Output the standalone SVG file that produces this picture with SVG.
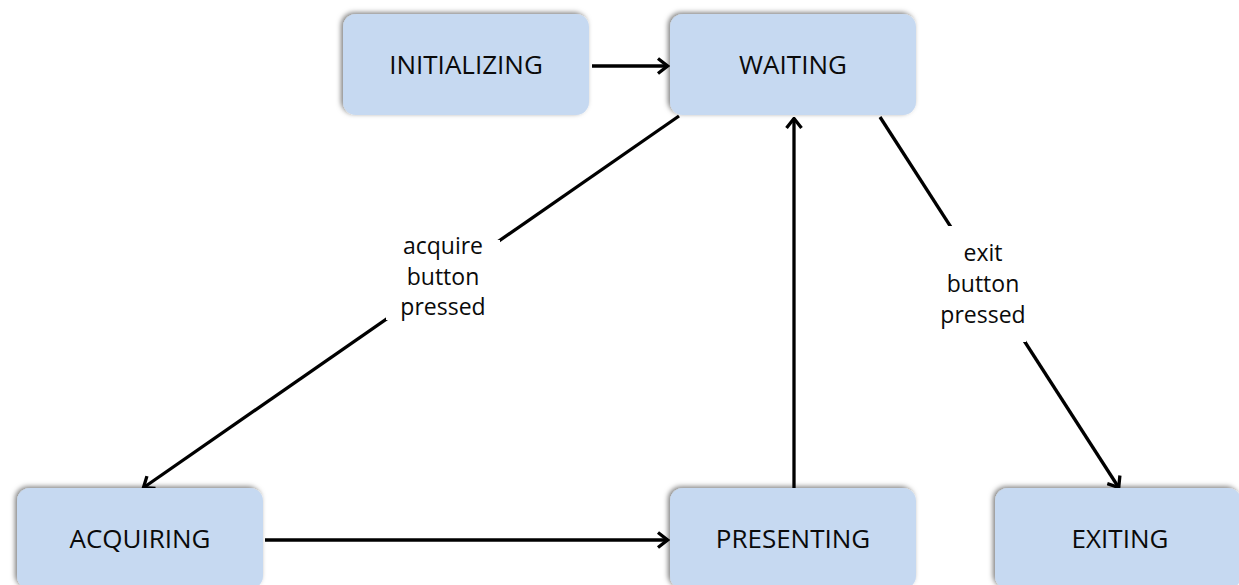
<svg xmlns="http://www.w3.org/2000/svg" width="1239" height="585" viewBox="0 0 1239 585">
  <style>
    .state rect { fill: #c6d9f1; filter: url(#soft); }
    .state text { font-family: "Open Sans", "Liberation Sans", sans-serif; font-size: 26px; fill: #0a0a0a; text-anchor: middle; }
    .edge { stroke: #000; stroke-width: 3.3; fill: none; marker-end: url(#head); }
    .label rect { fill: #fff; }
    .label text { font-family: "Open Sans", "Liberation Sans", sans-serif; font-size: 23px; fill: #0a0a0a; text-anchor: middle; }
  </style>
  <defs>
    <filter id="soft" x="-10%" y="-20%" width="120%" height="140%">
      <feDropShadow dx="-2" dy="-1.5" stdDeviation="2.4" flood-color="#000" flood-opacity="0.5"/>
    </filter>
    <marker id="head" markerUnits="userSpaceOnUse" viewBox="0 0 14 18" refX="12.5" refY="9" markerWidth="14" markerHeight="18" orient="auto">
      <path d="M2.5,1.5 L12,9 L2.5,16.5" fill="none" stroke="#000" stroke-width="3.3" stroke-linejoin="miter"/>
    </marker>
  </defs>

  <rect width="1239" height="585" fill="#fff"/>

  <!-- transitions -->
  <g id="connectors">
    <path class="edge" d="M592,66 L668,66"/>
    <path class="edge" d="M679,116 L143,488"/>
    <path class="edge" d="M265,540 L668,540"/>
    <path class="edge" d="M794,489 L794,118"/>
    <path class="edge" d="M880,117 L1119,488"/>
    <g class="label" id="label-acquire">
      <rect x="386" y="240" width="114" height="80"/>
      <text x="443" y="254">acquire</text>
      <text x="443" y="285">button</text>
      <text x="443" y="315">pressed</text>
    </g>
    <g class="label" id="label-exit">
      <rect x="940" y="226" width="86" height="116"/>
      <text x="983" y="261">exit</text>
      <text x="983" y="292">button</text>
      <text x="983" y="323">pressed</text>
    </g>
  </g>

  <!-- states -->
  <g class="state" id="initializing">
    <rect x="343" y="14" width="246" height="101" rx="13"/>
    <text x="466" y="74">INITIALIZING</text>
  </g>
  <g class="state" id="waiting">
    <rect x="670" y="14" width="246" height="101" rx="13"/>
    <text x="793" y="74">WAITING</text>
  </g>
  <g class="state" id="acquiring">
    <rect x="17" y="488" width="246" height="101" rx="13"/>
    <text x="140" y="548">ACQUIRING</text>
  </g>
  <g class="state" id="presenting">
    <rect x="670" y="488" width="246" height="101" rx="13"/>
    <text x="793" y="548">PRESENTING</text>
  </g>
  <g class="state" id="exiting">
    <rect x="995" y="488" width="246" height="101" rx="13"/>
    <text x="1120" y="548">EXITING</text>
  </g>
</svg>
